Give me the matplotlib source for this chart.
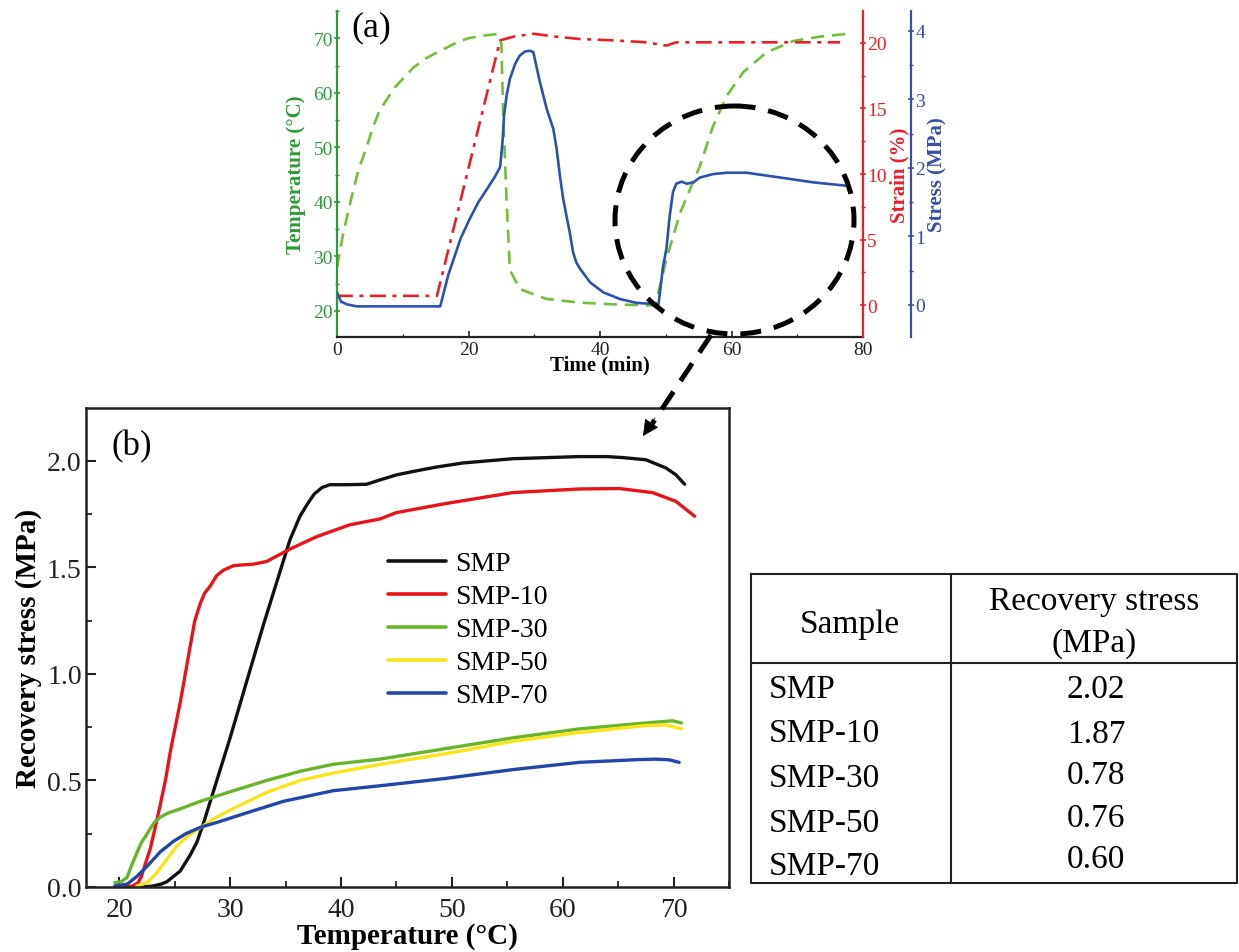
import matplotlib
matplotlib.use("Agg")
import matplotlib.pyplot as plt
from matplotlib.ticker import MultipleLocator, FormatStrFormatter
from matplotlib.patches import Ellipse

plt.rcParams['font.family'] = ['Liberation Serif', 'DejaVu Serif']

# ---------------- (a) thermo-mechanical cycle ----------------
time_temp = [0, 1.0, 2.2, 3.3, 4.5, 5.5, 6.5, 8.8, 11.6, 13.5, 15.2, 18.7, 20.0, 21.7,
             24.5, 25.0, 25.3, 25.8, 26.3, 27.8, 31.8, 36.9, 42.0, 47.0, 48.4, 50.1,
             52.2, 55.2, 57.2, 59.3, 61.8, 65.3, 69.4, 73.5, 77.5]
temperature = [28.0, 34.5, 40.8, 46.0, 50.0, 53.8, 56.8, 61.0, 64.6, 66.3, 67.4, 69.5,
               70.0, 70.4, 70.8, 69.0, 55.0, 40.0, 27.5, 24.0, 22.2, 21.5, 21.2, 21.0,
               21.0, 29.5, 38.0, 46.6, 53.9, 59.5, 63.8, 67.4, 69.5, 70.3, 70.8]

time_strain = [0, 15.2, 24.8, 27.0, 29.9, 33.0, 37.0, 42.0, 47.0, 50.1, 51.6, 60.0, 70.0, 76.5]
strain = [0.7, 0.7, 20.2, 20.5, 20.7, 20.5, 20.3, 20.2, 20.05, 19.8, 20.05, 20.05, 20.05, 20.05]

time_stress = [0, 0.3, 0.6, 1.5, 3.0, 15.7, 16.9, 17.6, 18.8, 20.2, 21.5, 22.8, 24.0,
               24.8, 25.0, 25.2, 25.4, 25.8, 26.3, 27.1, 27.8, 28.6, 29.35, 29.86, 30.87,
               31.9, 32.9, 33.4, 33.9, 34.4, 34.9, 35.4, 35.9, 36.4, 37.0, 38.5, 40.5,
               43.0, 45.6, 48.4, 48.9, 49.6, 50.1, 50.6, 51.1, 51.6, 52.4, 53.2, 54.2,
               55.2, 57.2, 59.3, 62.3, 67.4, 72.4, 77.5]
stress = [0.18, 0.12, 0.05, 0.01, -0.02, -0.02, 0.43, 0.63, 0.97, 1.26, 1.50, 1.69, 1.87,
          2.01, 2.20, 2.42, 2.76, 3.06, 3.30, 3.52, 3.64, 3.70, 3.71, 3.69, 3.25,
          2.86, 2.57, 2.28, 1.89, 1.55, 1.30, 1.06, 0.77, 0.62, 0.525, 0.33, 0.185,
          0.088, 0.03, 0.015, 0.01, 0.57, 0.82, 1.30, 1.65, 1.77, 1.80, 1.77, 1.79,
          1.86, 1.91, 1.93, 1.93, 1.86, 1.79, 1.74]

# ---------------- (b) recovery stress vs temperature ----------------
samples = ['SMP', 'SMP-10', 'SMP-30', 'SMP-50', 'SMP-70']
peak_stress = [2.02, 1.87, 0.78, 0.76, 0.60]

T_smp = [22.0, 23.0, 23.8, 24.3, 24.9, 25.5, 26.4, 27.0, 27.6, 28.2, 28.8, 30.0, 31.5,
         33.0, 34.2, 35.4, 36.3, 37.0, 37.6, 38.3, 39.0, 40.5, 42.3, 43.5, 45.0, 46.5,
         48.5, 51.0, 55.5, 58.5, 61.5, 64.0, 65.5, 67.5, 69.3, 70.2, 71.0]
S_smp = [0.0, 0.004, 0.014, 0.025, 0.05, 0.075, 0.15, 0.21, 0.30, 0.40, 0.50, 0.70, 0.966,
         1.23, 1.43, 1.63, 1.74, 1.80, 1.845, 1.875, 1.888, 1.888, 1.89, 1.91, 1.934, 1.95,
         1.97, 1.99, 2.01, 2.015, 2.02, 2.02, 2.015, 2.005, 1.967, 1.935, 1.89]

T_smp10 = [20.5, 21.2, 21.7, 22.0, 22.3, 22.8, 23.2, 23.7, 24.2, 24.6, 25.5, 26.4, 26.8,
           27.3, 27.7, 28.2, 28.8, 29.4, 30.3, 31.2, 32.1, 33.3, 35.4, 37.8, 40.8, 43.5,
           45.0, 49.5, 55.5, 61.5, 65.1, 68.1, 70.2, 71.9]
S_smp10 = [0.0, 0.005, 0.02, 0.05, 0.10, 0.18, 0.27, 0.386, 0.51, 0.634, 0.866, 1.13, 1.247,
           1.33, 1.379, 1.412, 1.462, 1.487, 1.508, 1.512, 1.515, 1.528, 1.586, 1.644, 1.70,
           1.727, 1.757, 1.80, 1.851, 1.868, 1.87, 1.851, 1.81, 1.74]

T_smp30 = [19.6, 20.2, 20.7, 21.1, 21.6, 22.0, 22.4, 22.8, 23.2, 23.7, 24.4, 25.2, 27.3,
           30.3, 33.3, 36.3, 39.3, 43.5, 49.5, 55.5, 61.5, 67.5, 69.9, 70.7]
S_smp30 = [0.02, 0.025, 0.045, 0.099, 0.162, 0.209, 0.24, 0.275, 0.305, 0.328, 0.347,
           0.361, 0.402, 0.452, 0.50, 0.543, 0.576, 0.60, 0.65, 0.70, 0.742, 0.77, 0.78, 0.77]

T_smp50 = [21.6, 22.5, 23.4, 24.3, 25.2, 26.2, 27.3, 28.7, 30.3, 33.3, 36.3, 39.3, 43.5,
           49.5, 55.5, 61.5, 67.5, 69.3, 70.7]
S_smp50 = [0.005, 0.02, 0.068, 0.13, 0.193, 0.24, 0.278, 0.325, 0.369, 0.444, 0.50, 0.535,
           0.575, 0.626, 0.684, 0.725, 0.758, 0.76, 0.742]

T_smp70 = [19.6, 20.7, 21.6, 22.5, 23.7, 24.9, 26.0, 27.3, 28.8, 31.8, 34.8, 39.3, 43.5,
           49.5, 55.5, 61.5, 66.9, 68.4, 69.6, 70.5]
S_smp70 = [0.005, 0.013, 0.05, 0.097, 0.165, 0.215, 0.25, 0.28, 0.303, 0.353, 0.402,
           0.452, 0.475, 0.51, 0.551, 0.585, 0.598, 0.60, 0.597, 0.585]

curve_T = [T_smp, T_smp10, T_smp30, T_smp50, T_smp70]
curve_S = [S_smp, S_smp10, S_smp30, S_smp50, S_smp70]
curve_colors = ['#111111', '#e8141c', '#6ab42a', '#f7e51a', '#2446a8']

GREEN_LINE = '#72bf3c'
GREEN_AX = '#2f9a3a'
RED = '#e8202a'
BLUE_LINE = '#2c52ad'
BLUE_AX = '#3a4ea5'

W, H = 1239, 953
fig = plt.figure(figsize=(W / 100, H / 100), dpi=100)


def frac_box(left, top, right, bottom):
    return [left / W, 1 - bottom / H, (right - left) / W, (bottom - top) / H]


# ---- panel (a) ----
ax_t = fig.add_axes(frac_box(337, 12, 863, 338))
ax_s = ax_t.twinx()
ax_p = ax_t.twinx()

ax_t.plot(time_temp, temperature, color=GREEN_LINE, lw=1.9, ls=(0, (5, 3)))
ax_s.plot(time_strain, strain, color=RED, lw=1.9, ls=(0, (6, 2.5, 1.5, 2.5)))
ax_p.plot(time_stress, stress, color=BLUE_LINE, lw=1.9)

ax_t.set_xlim(0, 80)
ax_t.set_ylim(15.2, 75.0)
ax_s.set_ylim(-2.44, 22.44)
ax_p.set_ylim(-0.467, 4.29)

ax_t.xaxis.set_major_locator(MultipleLocator(20))
ax_t.xaxis.set_minor_locator(MultipleLocator(10))
ax_t.set_yticks([20, 30, 40, 50, 60, 70])
ax_t.yaxis.set_minor_locator(MultipleLocator(5))
ax_s.set_yticks([0, 5, 10, 15, 20])
ax_s.yaxis.set_minor_locator(MultipleLocator(2.5))
ax_p.set_yticks([0, 1, 2, 3, 4])
ax_p.yaxis.set_minor_locator(MultipleLocator(0.5))

for a in (ax_t, ax_s, ax_p):
    for sp in a.spines.values():
        sp.set_visible(False)

ax_t.spines['left'].set_visible(True)
ax_t.spines['left'].set_color(GREEN_AX)
ax_t.spines['left'].set_linewidth(1.6)
ax_t.spines['bottom'].set_visible(True)
ax_t.spines['bottom'].set_color('#222222')
ax_t.spines['bottom'].set_linewidth(1.6)

ax_s.spines['right'].set_visible(True)
ax_s.spines['right'].set_color(RED)
ax_s.spines['right'].set_linewidth(1.6)

ax_p.spines['right'].set_visible(True)
ax_p.spines['right'].set_position(('axes', 1 + 48 / 526))
ax_p.spines['right'].set_color(BLUE_AX)
ax_p.spines['right'].set_linewidth(1.6)

ax_t.tick_params(axis='x', which='both', direction='in', colors='#222222', labelsize=14, pad=3)
ax_t.tick_params(axis='x', which='major', length=4, width=1.2)
ax_t.tick_params(axis='x', which='minor', length=2.5, width=1.0)
for a, col in ((ax_t, GREEN_AX), (ax_s, RED), (ax_p, BLUE_AX)):
    a.tick_params(axis='y', which='both', direction='inout', colors=col, labelsize=14, pad=1)
    a.tick_params(axis='y', which='major', length=4, width=1.2)
    a.tick_params(axis='y', which='minor', length=3, width=1.0)

ax_t.set_xlabel('Time (min)', fontsize=15, fontweight='bold', labelpad=-3)
ax_t.set_ylabel('Temperature (°C)', fontsize=15, fontweight='bold', color=GREEN_AX, labelpad=5)
ax_s.set_ylabel('Strain (%)', fontsize=15, fontweight='bold', color=RED, labelpad=2)
ax_p.set_ylabel('Stress (MPa)', fontsize=15, fontweight='bold', color=BLUE_AX, labelpad=2)

# ---- panel (b) ----
ax_b = fig.add_axes(frac_box(86, 409, 729, 888))
for name, T, S, c in zip(samples, curve_T, curve_S, curve_colors):
    ax_b.plot(T, S, color=c, lw=2.4, label=name, solid_capstyle='round',
              solid_joinstyle='round')

ax_b.set_xlim(17.0, 75.0)
ax_b.set_ylim(0, 2.248)
ax_b.xaxis.set_major_locator(MultipleLocator(10))
ax_b.xaxis.set_minor_locator(MultipleLocator(5))
ax_b.yaxis.set_major_locator(MultipleLocator(0.5))
ax_b.yaxis.set_minor_locator(MultipleLocator(0.25))
ax_b.yaxis.set_major_formatter(FormatStrFormatter('%.1f'))
for sp in ax_b.spines.values():
    sp.set_linewidth(1.8)
    sp.set_color('#222222')
ax_b.tick_params(which='both', direction='in', top=False, right=False,
                 colors='#222222', labelsize=20)
ax_b.tick_params(which='major', length=7, width=1.5)
ax_b.tick_params(which='minor', length=4, width=1.3)
ax_b.tick_params(axis='x', which='major', pad=7)
ax_b.tick_params(axis='y', which='major', pad=3)
ax_b.set_xlabel('Temperature (°C)', fontsize=21, fontweight='bold', labelpad=0)
ax_b.set_ylabel('Recovery stress (MPa)', fontsize=21, fontweight='bold', labelpad=4)

leg = ax_b.legend(loc='upper left', bbox_to_anchor=((388 - 86) / 643, (888 - 552) / 479),
                  frameon=False, fontsize=20, handlelength=2.1, handletextpad=0.3,
                  labelspacing=0.27, borderpad=0, borderaxespad=0)
for line in leg.get_lines():
    line.set_linewidth(2.6)

# ---- overlay: panel letters, highlight, arrow, summary table ----
ov = fig.add_axes([0, 0, 1, 1], zorder=10)
ov.set_xlim(0, W)
ov.set_ylim(H, 0)
ov.axis('off')

ov.text(371, 28, '(a)', fontsize=26, ha='center', va='center')
ov.text(132, 447, '(b)', fontsize=25, ha='center', va='center')

ov.add_patch(Ellipse((734.5, 221), 239, 228, fill=False, edgecolor='black',
                     lw=3.6, ls=(0, (4.2, 2.6))))
ov.plot([711, 652], [336, 425], color='black', lw=3.6, ls=(0, (4.2, 2.6)),
        dash_capstyle='butt')
ov.annotate('', xy=(643, 437), xytext=(655, 419),
            arrowprops=dict(arrowstyle='-|>', color='black', lw=0.5, mutation_scale=26,
                            shrinkA=0, shrinkB=0))

tl, tr, tt, tb, tc, th = 751, 1237, 575, 884, 951, 664
tbl_kw = dict(color='#222222', lw=1.5, solid_capstyle='projecting')
ov.plot([tl, tr, tr, tl, tl], [tt, tt, tb, tb, tt], **tbl_kw)
ov.plot([tl, tr], [th, th], **tbl_kw)
ov.plot([tc, tc], [tt, tb], **tbl_kw)

TFS = 24
ov.text(850, 633, 'Sample', fontsize=TFS, ha='center', va='baseline')
ov.text(1094, 610, 'Recovery stress', fontsize=TFS, ha='center', va='baseline')
ov.text(1094, 652, '(MPa)', fontsize=TFS, ha='center', va='baseline')
name_base = [698, 742, 787, 832, 875]
value_base = [698, 743, 784, 827, 868]
for name, v, yn, yv in zip(samples, peak_stress, name_base, value_base):
    ov.text(769, yn, name, fontsize=TFS, ha='left', va='baseline')
    ov.text(1096, yv, f'{v:.2f}', fontsize=TFS, ha='center', va='baseline')

fig.savefig('out.png', dpi=100)
